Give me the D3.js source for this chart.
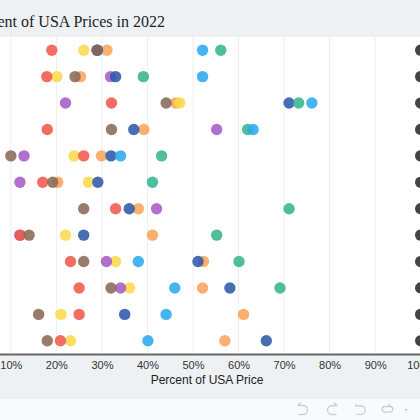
<!DOCTYPE html>
<html>
<head>
<meta charset="utf-8">
<script src="https://cdn.jsdelivr.net/npm/d3@7"></script>
<style>
  html, body { margin: 0; padding: 0; background: #f9fafb; overflow: hidden; }
  #chart { width: 420px; height: 420px; }
</style>
</head>
<body>
<div id="chart"></div>
<script>
// rows (labels sit left of the visible crop)
const rows = ["Row 1", "Row 2", "Row 3", "Row 4", "Row 5", "Row 6",
              "Row 7", "Row 8", "Row 9", "Row 10", "Row 11", "Row 12"];

// percent of USA price, one array per country (null = no data)
const orangeVals   = [31.1, 25.3, 46.2, 39.2, 29.9, 20.3, 38.0, 41.1, 52.3, 52.1, 61.1, 57.0];
const yellowVals   = [26.0, 20.1, 47.1, null, 23.9, 27.0, null, 22.0, 33.0, 36.1, 21.0, 23.1];
const purpleVals   = [29.0, 31.9, 22.0, 55.2, 12.9, 12.0, 42.0, 12.0, 31.0, 34.1, null, null];
const redVals      = [19.0, 17.9, 32.1, 18.0, 26.0, 17.0, 33.0, 12.0, 23.1, 25.0, 25.0, 20.9];
const darkBlueVals = [29.0, 33.0, 71.1, 37.0, 32.0, 29.1, 36.0, 26.0, 51.1, 58.1, 35.0, 66.1];
const brownVals    = [28.9, 24.1, 44.1, 32.1, 10.0, 19.2, 26.0, 14.0, 26.0, 32.0, 16.1, 18.0];
const greenVals    = [56.1, 39.1, 73.2, 62.0, 43.1, 41.1, 71.1, 55.2, 60.1, 69.1, null, null];
const blueVals     = [52.1, 52.1, 76.1, 63.2, 34.1, null, null, null, 38.0, 46.0, 44.1, 40.1];
const usaVals      = [100, 100, 100, 100, 100, 100, 100, 100, 100, 100, 100, 100];

const tickValues = [0, 10, 20, 30, 40, 50, 60, 70, 80, 90, 100];

const series = [
  {vals: orangeVals,   color: "#fba55b"},
  {vals: yellowVals,   color: "#fcda4c"},
  {vals: purpleVals,   color: "#a85bc7"},
  {vals: redVals,      color: "#f1594b"},
  {vals: darkBlueVals, color: "#2d5aa8"},
  {vals: brownVals,    color: "#8a6a57"},
  {vals: greenVals,    color: "#35b590"},
  {vals: blueVals,     color: "#2eaaf0"},
  {vals: usaVals,      color: "#2a2a2a"}
];

function main() {
  const W = 420, H = 420;
  const plotTop = 37, plotBottom = 354;

  const svg = d3.select("#chart").append("svg")
      .attr("width", W).attr("height", H);

  // backgrounds
  svg.append("rect").attr("x", 0).attr("y", 0).attr("width", W).attr("height", 399)
      .attr("fill", "#eef1f4");
  svg.append("rect").attr("x", 0).attr("y", plotTop).attr("width", W)
      .attr("height", plotBottom - plotTop).attr("fill", "#ffffff");

  // chart is cropped on the left, so 0% sits off screen
  const x = d3.scaleLinear().domain([0, 100]).range([-34.7, 420.7]);
  const y = d3.scaleBand().domain(rows).range([plotTop, plotBottom]);

  // grid
  svg.append("g").selectAll("line")
    .data(tickValues)
    .enter().append("line")
      .attr("x1", d => x(d)).attr("x2", d => x(d))
      .attr("y1", plotTop).attr("y2", plotBottom)
      .attr("stroke", "#eceef1").attr("stroke-width", 1);

  // title
  svg.append("text")
      .attr("x", 165).attr("y", 27)
      .attr("text-anchor", "end")
      .attr("font-family", "'Liberation Serif', 'DejaVu Serif', serif")
      .attr("font-size", "16px")
      .attr("fill", "#222")
      .text("Percent of USA Prices in 2022");

  // dots
  series.forEach(s => {
    svg.append("g").selectAll("circle")
      .data(s.vals.map((v, i) => ({row: rows[i], v: v})).filter(d => d.v != null))
      .enter().append("circle")
        .attr("cx", d => x(d.v))
        .attr("cy", d => y(d.row) + y.bandwidth() / 2)
        .attr("r", 5.7)
        .attr("fill", s.color)
        .attr("fill-opacity", 0.88);
  });

  // x axis
  const xAxis = d3.axisBottom(x)
      .tickValues(tickValues)
      .tickSize(0)
      .tickPadding(7)
      .tickFormat(d => d + "%");

  const gx = svg.append("g")
      .attr("transform", `translate(0,${plotBottom})`)
      .call(xAxis);
  gx.select(".domain").attr("stroke", "#666").attr("stroke-width", 2);
  gx.selectAll("text")
      .attr("font-family", "'Liberation Sans', Arial, sans-serif")
      .attr("font-size", "11px")
      .attr("fill", "#333");

  svg.append("text")
      .attr("x", 207).attr("y", 384)
      .attr("text-anchor", "middle")
      .attr("font-family", "'Liberation Sans', Arial, sans-serif")
      .attr("font-size", "12px")
      .attr("fill", "#222")
      .text("Percent of USA Price");

  // toolbar icons at the bottom
  const tb = svg.append("g")
      .attr("fill", "none").attr("stroke", "#c9ced4")
      .attr("stroke-width", 1.3).attr("stroke-linecap", "round");
  tb.append("path").attr("d", "M298,405.5 L303,405.5 A4.5,4.5 0 0 1 303,414.5 L299,414.5 M298,405.5 L300.5,403");
  tb.append("path").attr("d", "M337,405.5 L332,405.5 A4.5,4.5 0 0 0 332,414.5 L336,414.5 M337,405.5 L334.5,403");
  tb.append("path").attr("d", "M356,404 L356,406 L361,406 A4.2,4.2 0 0 1 361,414.4 L357,414.4");
  tb.append("path").attr("d", "M385,406.5 L390,406.5 A2.8,2.8 0 0 1 390,412.1 L385,412.1 A2.8,2.8 0 0 1 385,406.5 M389,404.5 L390.5,406.5");
  svg.append("path").attr("d", "M404,409 L408,409 L406,411.5 Z").attr("fill", "#c9ced4");
}

main();
</script>
</body>
</html>
